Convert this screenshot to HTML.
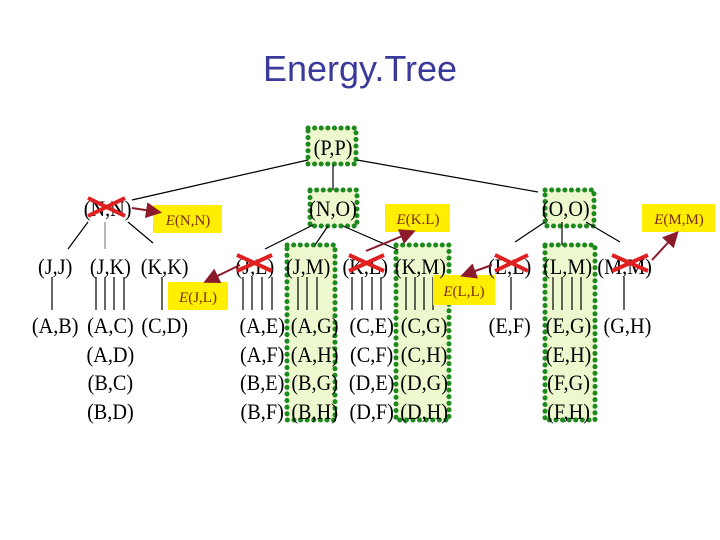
<html><head><style>body{margin:0;background:#fff}</style></head><body>
<svg width="720" height="540" viewBox="0 0 720 540" xmlns="http://www.w3.org/2000/svg">
<defs><marker id="ah" markerWidth="8" markerHeight="8" refX="6" refY="4" orient="auto"><path d="M0,0 L8,4 L0,8 z" fill="#8b1a2a"/></marker></defs>
<text x="360" y="81" text-anchor="middle" font-family="Liberation Sans, sans-serif" font-size="36" fill="#3a3a9a">Energy.Tree</text>
<g fill="#edf8cf" stroke="#1e8a1e" stroke-width="5" stroke-dasharray="0.1 6.5" stroke-linecap="round">
<rect x="308" y="128" width="48" height="36"/>
<rect x="310" y="190" width="47" height="36"/>
<rect x="545" y="190" width="49" height="36"/>
<rect x="287" y="245" width="48" height="175"/>
<rect x="396" y="245" width="53" height="175"/>
<rect x="545" y="245" width="50" height="175"/>
</g>
<g stroke="#000" stroke-width="1.2">
<line x1="308" y1="160" x2="132" y2="200"/><line x1="333" y1="165" x2="333" y2="190"/><line x1="357" y1="160" x2="538" y2="192"/>
<line x1="88" y1="222" x2="68" y2="249"/><line x1="105" y1="222" x2="105" y2="249" stroke="#888"/><line x1="128" y1="222" x2="153" y2="243"/>
<line x1="313" y1="225" x2="265" y2="249"/><line x1="328" y1="226" x2="315" y2="245"/><line x1="343" y1="226" x2="398" y2="250"/>
<line x1="545" y1="222" x2="515" y2="242"/><line x1="562" y1="222" x2="562" y2="245"/><line x1="586" y1="222" x2="620" y2="242"/>
<line x1="52" y1="277" x2="52" y2="310"/>
<line x1="96" y1="277" x2="96" y2="310"/><line x1="105" y1="277" x2="105" y2="310"/><line x1="114" y1="277" x2="114" y2="310"/><line x1="124" y1="277" x2="124" y2="310"/>
<line x1="162" y1="277" x2="162" y2="310"/>
<line x1="243" y1="277" x2="243" y2="310"/><line x1="252" y1="277" x2="252" y2="310"/><line x1="262" y1="277" x2="262" y2="310"/><line x1="272" y1="277" x2="272" y2="310"/>
<line x1="298" y1="277" x2="298" y2="310"/><line x1="307" y1="277" x2="307" y2="310"/><line x1="317" y1="277" x2="317" y2="310"/>
<line x1="352" y1="277" x2="352" y2="310"/><line x1="362" y1="277" x2="362" y2="310"/><line x1="372" y1="277" x2="372" y2="310"/><line x1="381" y1="277" x2="381" y2="310"/>
<line x1="406" y1="277" x2="406" y2="310"/><line x1="415" y1="277" x2="415" y2="310"/><line x1="424" y1="277" x2="424" y2="310"/><line x1="433" y1="277" x2="433" y2="310"/>
<line x1="511" y1="277" x2="511" y2="310"/>
<line x1="553" y1="277" x2="553" y2="310"/><line x1="562" y1="277" x2="562" y2="310"/><line x1="572" y1="277" x2="572" y2="310"/><line x1="581" y1="277" x2="581" y2="310"/>
<line x1="624" y1="277" x2="624" y2="310"/>
</g>
<g fill="#ffee00">
<rect x="153" y="205" width="69" height="28"/><rect x="385" y="204" width="65" height="28"/><rect x="642" y="204" width="73" height="28"/>
<rect x="168" y="282" width="60" height="28"/><rect x="433" y="275" width="62" height="30"/>
</g>
<g font-family="Liberation Serif, serif" font-size="15" fill="#7a2a10" text-anchor="middle">
<text x="188" y="225"><tspan font-style="italic">E</tspan>(N,N)</text>
<text x="418" y="224"><tspan font-style="italic">E</tspan>(K.L)</text>
<text x="679" y="224"><tspan font-style="italic">E</tspan>(M,M)</text>
<text x="198" y="302"><tspan font-style="italic">E</tspan>(J,L)</text>
<text x="464" y="296"><tspan font-style="italic">E</tspan>(L,L)</text>
</g>
<g font-family="Liberation Serif, serif" font-size="22" fill="#000" text-anchor="middle" transform="scale(0.92,1)">
<text x="362" y="155">(P,P)</text>
<text x="117" y="216">(N,N)</text><text x="362" y="216">(N,O)</text><text x="615" y="216">(O,O)</text>
<text x="60" y="274">(J,J)</text><text x="120" y="274">(J,K)</text><text x="179" y="274">(K,K)</text>
<text x="277" y="274">(J,L)</text><text x="335" y="274">(J,M)</text><text x="397" y="274">(K,L)</text><text x="457" y="274">(K,M)</text>
<text x="554" y="274">(L,L)</text><text x="617" y="274">(L,M)</text><text x="679" y="274">(M,M)</text>
<text x="60" y="333">(A,B)</text><text x="120" y="333">(A,C)</text><text x="179" y="333">(C,D)</text>
<text x="285" y="333">(A,E)</text><text x="342" y="333">(A,G)</text><text x="404" y="333">(C,E)</text><text x="461" y="333">(C,G)</text>
<text x="554" y="333">(E,F)</text><text x="618" y="333">(E,G)</text><text x="682" y="333">(G,H)</text>
<text x="120" y="362">(A,D)</text><text x="285" y="362">(A,F)</text><text x="342" y="362">(A,H)</text><text x="404" y="362">(C,F)</text><text x="461" y="362">(C,H)</text><text x="618" y="362">(E,H)</text>
<text x="120" y="390">(B,C)</text><text x="285" y="390">(B,E)</text><text x="342" y="390">(B,G)</text><text x="404" y="390">(D,E)</text><text x="461" y="390">(D,G)</text><text x="618" y="390">(F,G)</text>
<text x="120" y="419">(B,D)</text><text x="285" y="419">(B,F)</text><text x="342" y="419">(B,H)</text><text x="404" y="419">(D,F)</text><text x="461" y="419">(D,H)</text><text x="618" y="419">(F,H)</text>
</g>
<g stroke="#e02020" stroke-width="4">
<line x1="88" y1="198" x2="125" y2="216"/><line x1="88" y1="216" x2="125" y2="198"/>
<line x1="237" y1="255" x2="272" y2="271"/><line x1="237" y1="271" x2="272" y2="255"/>
<line x1="349" y1="255" x2="384" y2="271"/><line x1="349" y1="271" x2="384" y2="255"/>
<line x1="495" y1="255" x2="528" y2="271"/><line x1="495" y1="271" x2="528" y2="255"/>
<line x1="612" y1="255" x2="648" y2="271"/><line x1="612" y1="271" x2="648" y2="255"/>
</g>
<g stroke="#8b1a2a" stroke-width="2" marker-end="url(#ah)">
<line x1="132" y1="208" x2="158" y2="212"/>
<line x1="240" y1="265" x2="207" y2="281"/>
<line x1="366" y1="251" x2="412" y2="232"/>
<line x1="492" y1="265" x2="464" y2="275"/>
<line x1="652" y1="260" x2="676" y2="234"/>
</g>
</svg>
</body></html>
